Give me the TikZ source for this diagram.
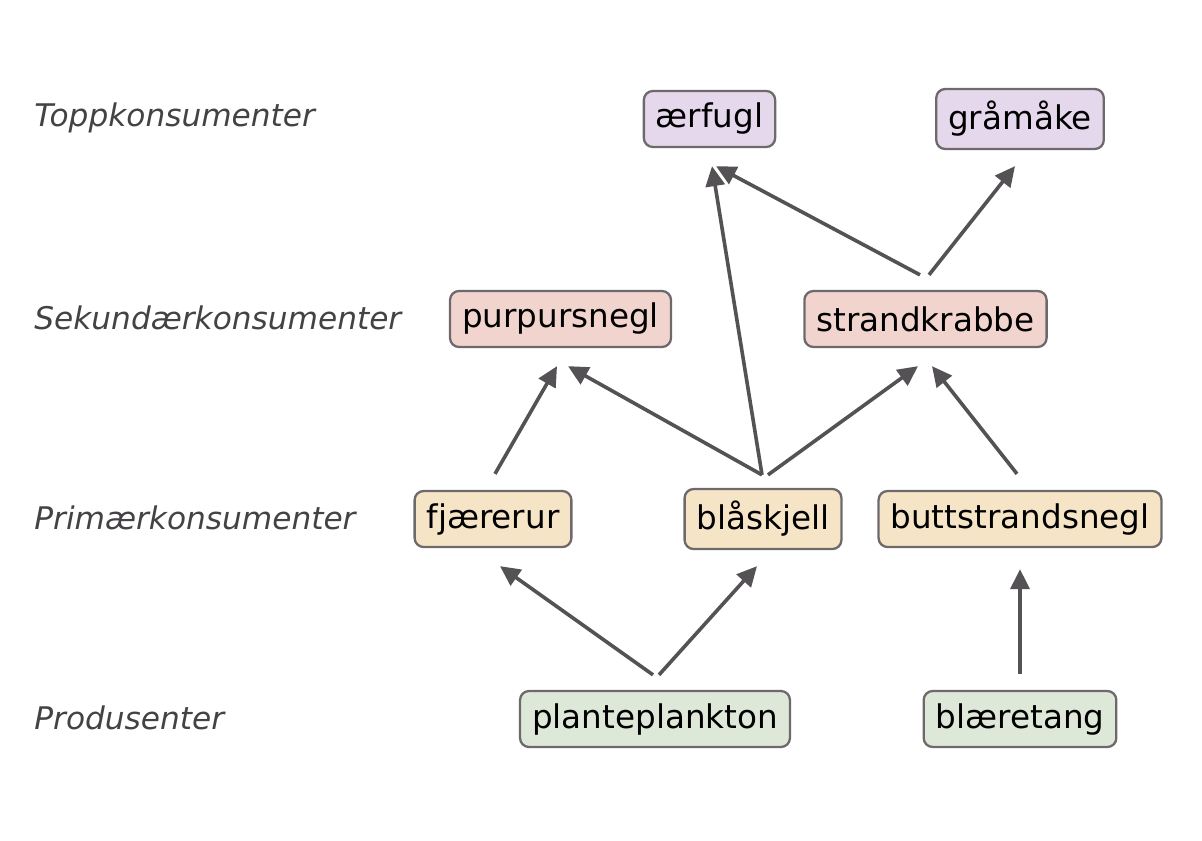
\documentclass[tikz,border=0pt]{standalone}
\usepackage{fontspec}
\setmainfont{DejaVu Sans}
\usetikzlibrary{arrows.meta}
\definecolor{toppc}{HTML}{E6D8EC}
\definecolor{sekc}{HTML}{F2D4CF}
\definecolor{primc}{HTML}{F6E4C7}
\definecolor{prodc}{HTML}{DEE8D8}
\definecolor{boxline}{HTML}{6E6A6C}
\definecolor{arrc}{HTML}{545254}
\definecolor{lblc}{HTML}{444244}
\tikzset{
  sp/.style={draw=boxline, line width=1.15pt, rounded corners=4.5pt, minimum height=28pt,
    inner xsep=6pt, inner ysep=3pt, font=\fontsize{16.3}{19}\selectfont, text=black},
  tall/.style={minimum height=30pt},
  topp/.style={sp, fill=toppc},
  sek/.style={sp, fill=sekc},
  prim/.style={sp, fill=primc},
  prod/.style={sp, fill=prodc},
  lvl/.style={anchor=west, text=lblc, font=\fontsize{15.6}{18}\selectfont\itshape, inner sep=0pt},
  arr/.style={draw=arrc, line width=1.8pt, -{Triangle[length=10pt,width=9.5pt]}}
}
\begin{document}
\begin{tikzpicture}[x=0.5pt,y=-0.5pt]
\useasboundingbox (0,0) rectangle (1202,840);
% level labels
\node[lvl] (l1) at (34,118) {Toppkonsumenter};
\node[lvl] (l2) at (34,318) {Sekundærkonsumenter};
\node[lvl] (l3) at (34,518) {Primærkonsumenter};
\node[lvl] (l4) at (34,718) {Produsenter};
% species
\node[topp] (er) at (709.5,119) {ærfugl};
\node[topp,tall] (gr) at (1020,119) {gråmåke};
\node[sek] (pu) at (560.5,319) {purpursnegl};
\node[sek] (st) at (925.5,319) {strandkrabbe};
\node[prim] (fj) at (493,519) {fjærerur};
\node[prim,tall] (bl) at (763,519) {blåskjell};
\node[prim] (bu) at (1020,519) {buttstrandsnegl};
\node[prod] (pp) at (655,719) {planteplankton};
\node[prod] (bt) at (1020,719) {blæretang};
% feeding arrows
\draw[arr] ([xshift=1pt,yshift=8pt]fj.north) -- ([xshift=-1.75pt,yshift=-9pt]pu.south);
\draw[arr] ([xshift=-0.5pt,yshift=6.5pt]bl.north) -- ([xshift=3.75pt,yshift=-9pt]pu.south);
\draw[arr] ([xshift=-0.5pt,yshift=6.5pt]bl.north) -- ([xshift=1.25pt,yshift=-9pt]er.south);
\draw[arr] ([xshift=2.5pt,yshift=6.5pt]bl.north) -- ([xshift=-3.75pt,yshift=-9pt]st.south);
\draw[arr] ([xshift=-1.5pt,yshift=8pt]bu.north) -- ([xshift=3.25pt,yshift=-9pt]st.south);
\draw[arr] ([xshift=-2.75pt,yshift=7.5pt]st.north) -- ([xshift=3.25pt,yshift=-9pt]er.south);
\draw[arr] ([xshift=1.75pt,yshift=7.5pt]st.north) -- ([xshift=-2.5pt,yshift=-8pt]gr.south);
\draw[arr] ([xshift=-1pt,yshift=7.5pt]pp.north) -- ([xshift=3.5pt,yshift=-9pt]fj.south);
\draw[arr] ([xshift=2pt,yshift=7.5pt]pp.north) -- ([xshift=-3pt,yshift=-8pt]bl.south);
\draw[arr] ([yshift=8pt]bt.north) -- ([yshift=-10.5pt]bu.south);
\end{tikzpicture}
\end{document}
